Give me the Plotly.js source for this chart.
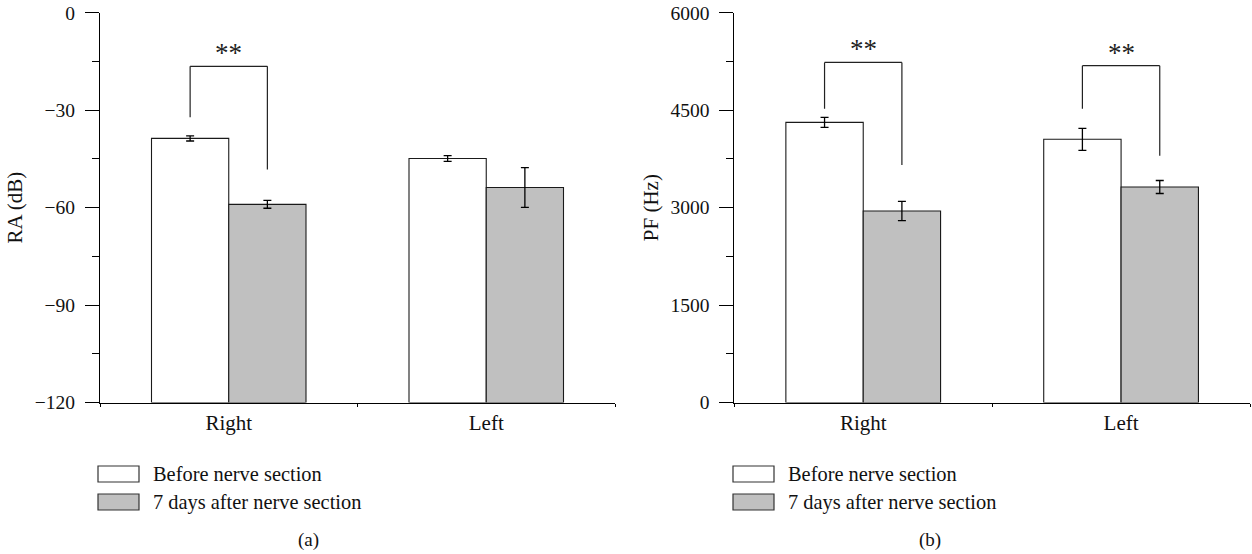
<!DOCTYPE html>
<html><head><meta charset="utf-8">
<script src="https://cdn.plot.ly/plotly-3.0.1.min.js"></script>
<style>html,body{margin:0;padding:0;background:#fff}</style>
</head><body><div id="chart" style="width:1252px;height:554px"></div>
<script>
// ---- data ----
const categories = ['Right', 'Left'];
const seriesNames = ['Before nerve section', '7 days after nerve section'];
const raBefore = [-38.7, -44.9];
const raBeforeErr = [0.8, 0.9];
const raAfter = [-59.0, -53.8];
const raAfterErr = [1.2, 6.1];
const pfBefore = [4312, 4051];
const pfBeforeErr = [77, 169];
const pfAfter = [2948, 3317];
const pfAfterErr = [149, 100];
const raRange = [-120, 0];
const pfRange = [0, 6000];
const raTickStep = 30;
const pfTickStep = 1500;
const panelLabels = ['(a)', '(b)'];
const sigText = '**';
// significance brackets: [category index, left leg bottom, bracket top, right leg bottom]
const raBrackets = [[0, -32.2, -16.5, -48.3]];
const pfBrackets = [[0, 4523, 5235, 3655], [1, 4523, 5185, 3800]];

// ---- style ----
const FONT = 'Liberation Serif, Times New Roman, serif';
const WHITE = '#ffffff', GRAY = '#c0c0c0', EDGE = '#1a1a1a';
const W = 1252, H = 554;
const px = v => v / W, py = v => 1 - v / H;
const BARGAP = 0.4;
const half = (1 - BARGAP) / 4; // center offset of each bar in a group of two

function barTrace(vals, errs, color, name, xa, ya, base) {
  return {
    type: 'bar', x: categories, y: vals.map(v => v - base), base: base,
    name: name, xaxis: xa, yaxis: ya, showlegend: false,
    marker: {color: color, line: {color: EDGE, width: 1.1}},
    error_y: {type: 'data', array: errs, visible: true, color: '#000', thickness: 1.3, width: 4},
    hoverinfo: 'skip'
  };
}

const data = [
  barTrace(raBefore, raBeforeErr, WHITE, seriesNames[0], 'x', 'y', raRange[0]),
  barTrace(raAfter, raAfterErr, GRAY, seriesNames[1], 'x', 'y', raRange[0]),
  barTrace(pfBefore, pfBeforeErr, WHITE, seriesNames[0], 'x2', 'y2', pfRange[0]),
  barTrace(pfAfter, pfAfterErr, GRAY, seriesNames[1], 'x2', 'y2', pfRange[0])
];

function yAxis(range, step, title, anchor) {
  return {
    anchor: anchor, domain: [py(402.5), py(12.7)], range: range,
    tickmode: 'linear', tick0: range[0], dtick: step,
    ticks: 'outside', ticklen: 14, tickwidth: 1, tickcolor: '#000',
    showline: true, linecolor: '#000', linewidth: 1,
    showgrid: false, zeroline: false, ticklabelstandoff: 6,
    tickfont: {family: FONT, size: 19.5, color: '#111'},
    minor: {ticks: 'outside', dtick: step / 2, tick0: range[0], ticklen: 7, tickwidth: 1, tickcolor: '#000', showgrid: false},
    title: {text: title, font: {family: FONT, size: 21, color: '#111'}, standoff: 6},
    fixedrange: true
  };
}
function xAxis(domain, anchor) {
  return {
    anchor: anchor, domain: domain, type: 'category', range: [-0.5, 1.5],
    tickson: 'boundaries', ticks: 'outside', ticklen: 3, tickcolor: '#000',
    showline: true, linecolor: '#000', linewidth: 1.2, showgrid: false, zeroline: false,
    tickfont: {family: FONT, size: 21, color: '#111'}, ticklabelstandoff: 1,
    fixedrange: true
  };
}

const shapes = [];
const annotations = [];
function addBrackets(list, xref, yref) {
  list.forEach(([c, yl, yt, yr]) => {
    const line = {color: '#222', width: 1.2};
    shapes.push({type: 'line', xref, yref, x0: c - half, x1: c - half, y0: yl, y1: yt, line});
    shapes.push({type: 'line', xref, yref, x0: c - half, x1: c + half, y0: yt, y1: yt, line});
    shapes.push({type: 'line', xref, yref, x0: c + half, x1: c + half, y0: yt, y1: yr, line});
    annotations.push({xref, yref, x: c, y: yt, text: sigText, showarrow: false,
      xanchor: 'center', yanchor: 'bottom', yshift: -4,
      font: {family: FONT, size: 27, color: '#222'}});
  });
}
addBrackets(raBrackets, 'x', 'y');
addBrackets(pfBrackets, 'x2', 'y2');

// legends (one per panel)
function addLegend(boxLeft, textLeft) {
  const rows = [[466, 482, 474, WHITE], [494, 510, 502, GRAY]];
  rows.forEach(([t, b, c, col], i) => {
    shapes.push({type: 'rect', xref: 'paper', yref: 'paper', x0: px(boxLeft), x1: px(boxLeft + 41),
      y0: py(b), y1: py(t), fillcolor: col, line: {color: '#333', width: 1.2}});
    annotations.push({xref: 'paper', yref: 'paper', x: px(textLeft), y: py(c), text: seriesNames[i],
      showarrow: false, xanchor: 'left', yanchor: 'middle',
      font: {family: FONT, size: 20.4, color: '#111'}});
  });
}
addLegend(98, 151);
addLegend(733, 786);

annotations.push({xref: 'paper', yref: 'paper', x: px(308), y: py(540), text: panelLabels[0], showarrow: false,
  xanchor: 'center', yanchor: 'middle', font: {family: FONT, size: 19, color: '#111'}});
annotations.push({xref: 'paper', yref: 'paper', x: px(930), y: py(540), text: panelLabels[1], showarrow: false,
  xanchor: 'center', yanchor: 'middle', font: {family: FONT, size: 19, color: '#111'}});

const layout = {
  width: W, height: H, margin: {l: 0, r: 0, t: 0, b: 0},
  paper_bgcolor: '#fff', plot_bgcolor: '#fff',
  barmode: 'group', bargap: BARGAP, bargroupgap: 0,
  showlegend: false,
  xaxis: xAxis([px(100), px(615)], 'y'),
  yaxis: yAxis(raRange, raTickStep, 'RA (dB)', 'x'),
  xaxis2: xAxis([px(734.3), px(1250)], 'y2'),
  yaxis2: yAxis(pfRange, pfTickStep, 'PF (Hz)', 'x2'),
  shapes: shapes, annotations: annotations,
  font: {family: FONT}
};

Plotly.newPlot('chart', data, layout, {displayModeBar: false, staticPlot: true});
</script></body></html>
